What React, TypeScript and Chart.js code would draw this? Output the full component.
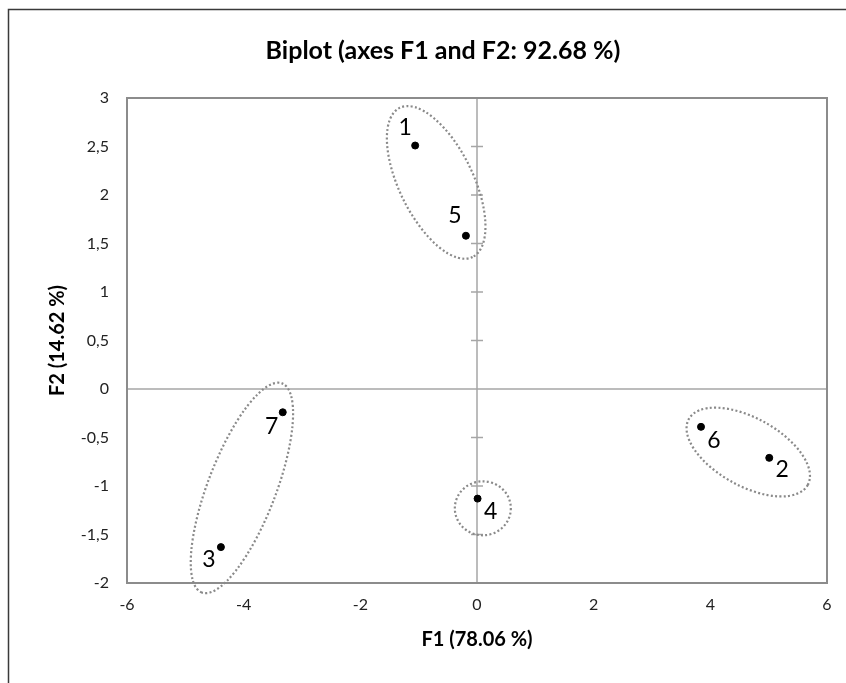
import React, { useEffect, useRef } from 'react';
import { Chart, registerables } from 'chart.js';

Chart.register(...registerables);

// ---- data ----
const pointLabels = ['1', '2', '3', '4', '5', '6', '7'];
const f1Values = [-1.06, 5.01, -4.39, 0.01, -0.19, 3.84, -3.33];
const f2Values = [2.51, -0.71, -1.63, -1.13, 1.58, -0.39, -0.24];

const xTickValues = [-6, -4, -2, 0, 2, 4, 6];
const yTickValues = [-2, -1.5, -1, -0.5, 0, 0.5, 1, 1.5, 2, 2.5, 3];

const titleText = 'Biplot (axes F1 and F2: 92.68 %)';
const xTitleText = 'F1 (78.06 %)';
const yTitleText = 'F2 (14.62 %)';

// group ellipses: centres in data units
const ellipseCenterX = [-0.7, -4.03, 0.1, 4.65];
const ellipseCenterY = [2.13, -1.02, -1.23, -0.65];

// ---- styles (pixels / degrees) ----
const ellipseRadiusA = [83, 112, 28, 68];
const ellipseRadiusB = [37, 34, 27, 34];
const ellipseAngle = [64, 111, 0, 29];
const labelDX = [-10, 13, -12, 13, -11, 13, -11];
const labelDY = [-18, 12, 12, 13, -20, 14, 14];

const FONT = 'Lato, "Open Sans", sans-serif';

const decorPlugin = {
  id: 'decor',
  beforeDraw(chart: any) {
    const ctx = chart.ctx;
    ctx.save();
    ctx.fillStyle = '#ffffff';
    ctx.fillRect(0, 0, chart.width, chart.height);
    // outer chart border (top & left visible)
    ctx.strokeStyle = '#3a3a3a';
    ctx.lineWidth = 1.5;
    ctx.beginPath();
    ctx.moveTo(8.5, chart.height);
    ctx.lineTo(8.5, 9.5);
    ctx.lineTo(chart.width, 9.5);
    ctx.stroke();
    // title
    ctx.fillStyle = '#000';
    ctx.font = 'bold 25px ' + FONT;
    ctx.textAlign = 'center';
    ctx.textBaseline = 'middle';
    ctx.fillText(titleText, 443, 51);
    const ca = chart.chartArea;
    // axis titles
    ctx.font = 'bold 20px ' + FONT;
    ctx.fillText(xTitleText, (ca.left + ca.right) / 2, 640);
    ctx.save();
    ctx.translate(58, (ca.top + ca.bottom) / 2);
    ctx.rotate(-Math.PI / 2);
    ctx.fillText(yTitleText, 0, 0);
    ctx.restore();
    ctx.restore();
  },
  beforeDatasetsDraw(chart: any) {
    const ctx = chart.ctx;
    const ca = chart.chartArea;
    const xs = chart.scales.x;
    const ys = chart.scales.y;
    ctx.save();
    // zero lines
    const x0 = xs.getPixelForValue(0);
    const y0 = ys.getPixelForValue(0);
    ctx.strokeStyle = '#a6a6a6';
    ctx.lineWidth = 1.5;
    ctx.beginPath();
    ctx.moveTo(x0, ca.top);
    ctx.lineTo(x0, ca.bottom);
    ctx.moveTo(ca.left, y0);
    ctx.lineTo(ca.right, y0);
    // tick crosses on the vertical zero axis
    yTickValues.forEach((v) => {
      const py = ys.getPixelForValue(v);
      ctx.moveTo(x0 - 6, py);
      ctx.lineTo(x0 + 6, py);
    });
    ctx.stroke();
    // plot frame
    ctx.strokeStyle = '#8c8c8c';
    ctx.lineWidth = 2;
    ctx.strokeRect(ca.left, ca.top, ca.right - ca.left, ca.bottom - ca.top);
    // ellipses
    ctx.strokeStyle = '#8a8a8a';
    ctx.lineWidth = 2.2;
    ctx.setLineDash([2, 2.3]);
    ellipseCenterX.forEach((cx, i) => {
      const px = xs.getPixelForValue(cx);
      const py = ys.getPixelForValue(ellipseCenterY[i]);
      ctx.beginPath();
      ctx.ellipse(px, py, ellipseRadiusA[i], ellipseRadiusB[i], (ellipseAngle[i] * Math.PI) / 180, 0, Math.PI * 2);
      ctx.stroke();
    });
    ctx.restore();
  },
  afterDatasetsDraw(chart: any) {
    const ctx = chart.ctx;
    const meta = chart.getDatasetMeta(0);
    ctx.save();
    ctx.fillStyle = '#000';
    ctx.font = '23px ' + FONT;
    ctx.textAlign = 'center';
    ctx.textBaseline = 'middle';
    meta.data.forEach((el: any, i: number) => {
      ctx.fillText(pointLabels[i], el.x + labelDX[i], el.y + labelDY[i]);
    });
    ctx.restore();
  },
};

export default function App() {
  const ref = useRef<HTMLCanvasElement | null>(null);
  useEffect(() => {
    if (!ref.current) return;
    const chart = new Chart(ref.current, {
      type: 'scatter',
      data: {
        datasets: [
          {
            label: 'Observations',
            data: f1Values.map((x, i) => ({ x, y: f2Values[i] })),
            backgroundColor: '#000',
            borderColor: '#000',
            pointRadius: 3.5,
            pointHoverRadius: 3.5,
          },
        ],
      },
      options: {
        responsive: false,
        animation: false,
        layout: { padding: { top: 98, right: 19, left: 0, bottom: 0 } },
        plugins: {
          legend: { display: false },
          title: { display: false },
          tooltip: { enabled: false },
        },
        scales: {
          x: {
            type: 'linear',
            min: -6,
            max: 6,
            afterBuildTicks: (s: any) => {
              s.ticks = xTickValues.map((v) => ({ value: v }));
            },
            afterFit: (s: any) => {
              s.height = 100;
            },
            grid: { display: false, drawTicks: false },
            border: { display: false },
            ticks: {
              padding: 12,
              color: '#222',
              font: { family: FONT, size: 16 },
              maxRotation: 0,
              callback: (v: any) => String(v),
            },
          },
          y: {
            type: 'linear',
            min: -2,
            max: 3,
            afterBuildTicks: (s: any) => {
              s.ticks = yTickValues.map((v) => ({ value: v }));
            },
            afterFit: (s: any) => {
              s.width = 127;
            },
            grid: { display: false, drawTicks: false },
            border: { display: false },
            ticks: {
              padding: 18,
              color: '#222',
              font: { family: FONT, size: 16 },
              callback: (v: any) => String(v).replace('.', ','),
            },
          },
        },
      },
      plugins: [decorPlugin],
    });
    return () => chart.destroy();
  }, []);
  return (
    <div style={{ position: 'absolute', left: 0, top: 0, width: 846, height: 683 }}>
      <canvas ref={ref} width={846} height={683} />
    </div>
  );
}
